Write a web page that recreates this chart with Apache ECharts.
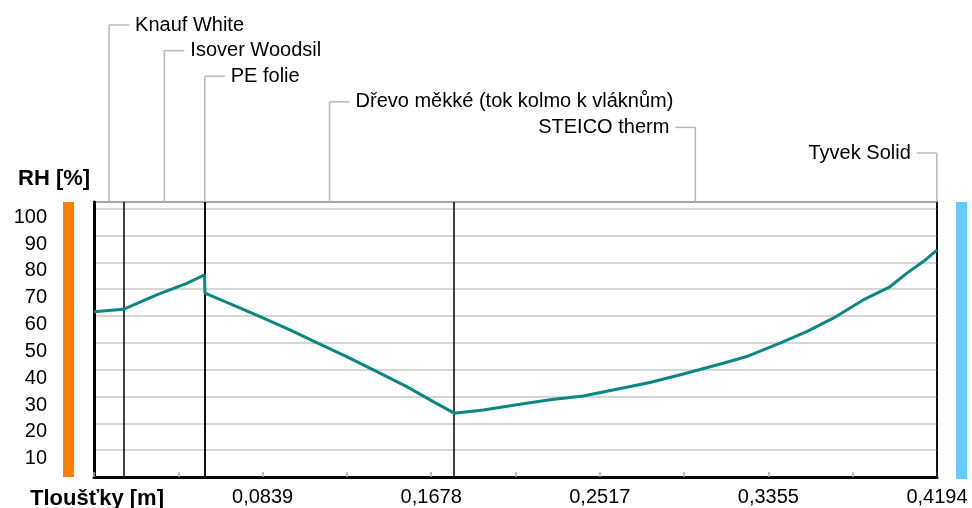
<!DOCTYPE html>
<html>
<head>
<meta charset="utf-8">
<script src="https://cdn.jsdelivr.net/npm/echarts@6/dist/echarts.min.js"></script>
<style>
  html, body { margin: 0; padding: 0; background: #fff; }
  #chart { width: 972px; height: 508px; }
</style>
</head>
<body>
<div id="chart"></div>
<script>
// vrstvy konstrukce (zevnitř ven)
const layerNames = ['Knauf White', 'Isover Woodsil', 'PE folie', 'Dřevo měkké (tok kolmo k vláknům)', 'STEICO therm', 'Tyvek Solid'];
const layerThickness = [0.015, 0.04, 0.0002, 0.124, 0.24, 0.00023];
const labelSide = ['left', 'left', 'left', 'left', 'right', 'right'];

// průběh relativní vlhkosti
const rhX = [0, 0.0146, 0.0312, 0.0461, 0.0550, 0.0552, 0.0693, 0.0826, 0.0975, 0.1108, 0.1257, 0.1390, 0.1556, 0.1688, 0.1792,
  0.1937, 0.2103, 0.2269, 0.2434, 0.2600, 0.2766, 0.2932, 0.3131, 0.3247, 0.3413, 0.3546, 0.3678, 0.3827, 0.3960, 0.4043, 0.4126, 0.41943];
const rhY = [61.6, 62.5, 67.9, 72.2, 75.3, 68.5, 64.1, 59.8, 54.8, 50.1, 44.9, 39.9, 33.7, 28.1, 23.8,
  25.0, 26.9, 28.8, 30.2, 32.7, 35.2, 38.4, 42.4, 44.9, 49.9, 54.2, 59.2, 66.0, 70.9, 75.9, 80.3, 84.6];

// popisky os
const xTickLabels = ['', '', '0,0839', '', '0,1678', '', '0,2517', '', '0,3355', '', '0,4194'];
const yTickLabels = ['', '10', '20', '30', '40', '50', '60', '70', '80', '90', '100'];
const sideColors = ['#ff8000', '#66ccff'];

const totalThickness = layerThickness.reduce((a, b) => a + b, 0);
const xInterval = totalThickness / 10;

// hranice a středy vrstev
const boundaries = [];
const centers = [];
let acc = 0;
for (const t of layerThickness) {
  centers.push(acc + t / 2);
  acc += t;
  boundaries.push(acc);
}
boundaries.pop();

const font = 'Liberation Sans';
const chart = echarts.init(document.getElementById('chart'));

chart.setOption({
  animation: false,
  title: [
    { text: 'RH [%]', left: 13, top: 163, textStyle: { fontFamily: font, fontSize: 22, fontWeight: 'bold', color: '#000' } },
    { text: 'Tloušťky [m]', left: 25, top: 483, textStyle: { fontFamily: font, fontSize: 22, fontWeight: 'bold', color: '#000' } }
  ],
  grid: { left: 94, right: 35, top: 202, bottom: 31, show: true, borderColor: '#000', borderWidth: 1.5 },
  xAxis: {
    type: 'value',
    min: 0,
    max: totalThickness,
    interval: xInterval,
    axisLine: { lineStyle: { color: '#000', width: 3 } },
    axisTick: { show: true, inside: true, length: 5, lineStyle: { color: '#aaa', width: 1.5 } },
    splitLine: { show: false },
    axisLabel: {
      margin: 10,
      fontFamily: font,
      fontSize: 20,
      color: '#000',
      formatter: (v) => xTickLabels[Math.round(v / xInterval)] || ''
    }
  },
  yAxis: {
    type: 'value',
    min: 0,
    max: 102.5,
    interval: 10,
    axisLine: { show: true, lineStyle: { color: '#000', width: 3 } },
    axisTick: { show: false },
    splitLine: { lineStyle: { color: '#c8c8c8', width: 1.5 } },
    axisLabel: {
      margin: 47,
      fontFamily: font,
      fontSize: 20,
      color: '#000',
      verticalAlign: 'top',
      lineHeight: 17,
      showMaxLabel: false,
      formatter: (v) => yTickLabels[Math.round(v / 10)] || ''
    }
  },
  series: [
    {
      type: 'line',
      data: rhX.map((x, i) => [x, rhY[i]]),
      showSymbol: false,
      lineStyle: { color: '#0b8682', width: 3 },
      z: 5,
      markLine: {
        silent: true,
        symbol: 'none',
        precision: 6,
        label: { show: false },
        lineStyle: { color: '#000', width: 1.5, type: 'solid' },
        data: boundaries.map((b) => ({ xAxis: b }))
      }
    },
    {
      // popisky vrstev s vodicími čarami
      type: 'custom',
      clip: false,
      silent: true,
      data: centers.map((c, i) => [c, i]),
      renderItem: (params, api) => {
        const i = params.dataIndex;
        const x = api.coord([api.value(0), 0])[0];
        const top = params.coordSys.y;
        const ly = top - 177 + i * 25.6;
        const dir = labelSide[i] === 'left' ? 1 : -1;
        const style = { stroke: '#b8b8b8', lineWidth: 1.5 };
        return {
          type: 'group',
          children: [
            { type: 'line', shape: { x1: x, y1: top, x2: x, y2: ly }, style },
            { type: 'line', shape: { x1: x, y1: ly, x2: x + dir * 20, y2: ly }, style },
            {
              type: 'text',
              style: {
                x: x + dir * 26, y: ly,
                text: layerNames[i],
                font: '20px "' + font + '"',
                fill: '#000',
                align: dir === 1 ? 'left' : 'right',
                verticalAlign: 'middle'
              }
            }
          ]
        };
      }
    },
    {
      // barevné pruhy interiér / exteriér
      type: 'custom',
      clip: false,
      silent: true,
      data: [[0, 0], [1, 0]],
      renderItem: (params, api) => {
        const cs = params.coordSys;
        const i = params.dataIndex;
        const x = i === 0 ? cs.x - 31 : cs.x + cs.width + 19;
        return {
          type: 'rect',
          shape: { x: x, y: cs.y, width: 11, height: cs.height + (i === 0 ? 0 : 2) },
          style: { fill: sideColors[i] }
        };
      }
    }
  ]
});
</script>
</body>
</html>
